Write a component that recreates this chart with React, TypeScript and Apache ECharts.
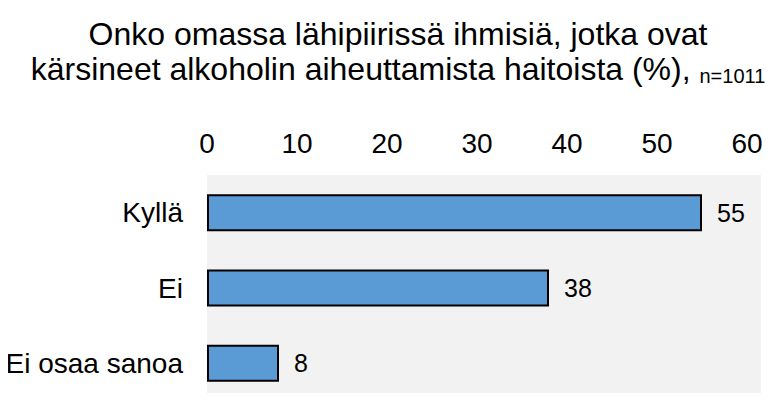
import React, { useEffect, useRef } from "react";
import * as echarts from "echarts";

const categories = ["Kyllä", "Ei", "Ei osaa sanoa"];
const values = [55, 38, 8];
const tickMax = 60;
const tickStep = 10;
const titleLine1 = "Onko omassa lähipiirissä ihmisiä, jotka ovat";
const titleLine2 = "kärsineet alkoholin aiheuttamista haitoista (%), ";
const sampleNote = "n=1011";

export default function App() {
  const ref = useRef<HTMLDivElement>(null);
  useEffect(() => {
    if (!ref.current) return;
    const chart = echarts.init(ref.current, null, { renderer: "svg" });
    const font = "Liberation Sans, Arial, sans-serif";
    chart.setOption({
      animation: false,
      backgroundColor: "#ffffff",
      title: {
        text: titleLine1 + "\n" + titleLine2 + "{n|" + sampleNote + "}",
        left: 398,
        top: 16,
        padding: 0,
        textAlign: "center",
        textStyle: {
          fontFamily: font,
          fontSize: 32,
          fontWeight: "normal",
          color: "#000",
          lineHeight: 35,
          rich: {
            n: {
              fontFamily: font,
              fontSize: 20,
              color: "#000",
              lineHeight: 27,
              verticalAlign: "bottom",
            },
          },
        },
      },
      graphic: [
        {
          type: "rect",
          shape: { x: 207, y: 175, width: 554, height: 240 },
          style: { fill: "#f2f2f2" },
          z: -10,
          silent: true,
        },
      ],
      grid: { left: 207, top: 175, width: 540, height: 234, containLabel: false },
      xAxis: {
        type: "value",
        position: "top",
        min: 0,
        max: tickMax,
        interval: tickStep,
        axisLine: { show: false },
        axisTick: { show: false },
        splitLine: { show: false },
        axisLabel: { fontFamily: font, fontSize: 28, color: "#000", margin: 18 },
      },
      yAxis: {
        type: "category",
        data: categories,
        inverse: true,
        axisLine: { show: false },
        axisTick: { show: false },
        splitLine: { show: false },
        axisLabel: { fontFamily: font, fontSize: 28, color: "#000", margin: 24 },
      },
      series: [
        {
          type: "bar",
          data: values,
          barWidth: 37,
          itemStyle: { color: "#5b9bd5", borderColor: "#000", borderWidth: 2 },
          label: {
            show: true,
            position: "right",
            distance: 15,
            fontFamily: font,
            fontSize: 25,
            color: "#000",
          },
        },
      ],
    });
    return () => chart.dispose();
  }, []);
  return <div ref={ref} style={{ width: 776, height: 401, margin: -8 }} />;
}
